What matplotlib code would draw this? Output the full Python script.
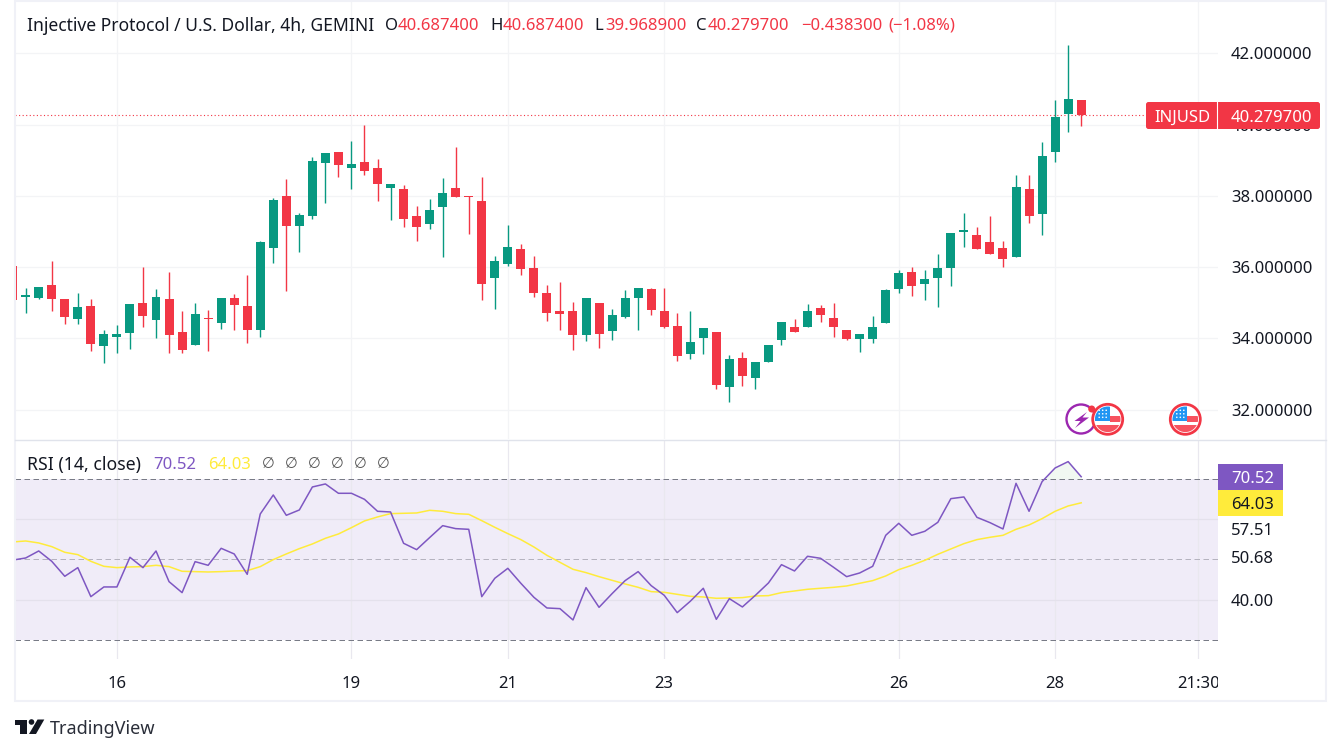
import matplotlib
matplotlib.use("Agg")
import matplotlib.pyplot as plt
from matplotlib.patches import Rectangle, Circle, Polygon, FancyBboxPatch

plt.rcParams['font.family'] = ['Noto Sans', 'DejaVu Sans']

opens = [36.04,35.17,35.14,35.50,35.11,34.55,34.92,33.79,34.05,34.16,35.00,34.52,35.11,34.19,33.82,34.58,34.44,35.14,34.92,34.24,
         36.54,38.00,37.16,37.44,38.93,39.23,38.79,38.95,38.79,38.22,38.20,37.44,37.21,37.69,38.22,38.00,37.86,35.70,36.09,36.51,
         35.98,35.28,34.78,34.78,34.10,35.00,34.21,34.61,35.14,35.39,34.78,34.36,33.57,34.02,34.19,32.64,33.46,32.90,33.35,33.96,
         34.33,34.33,34.86,34.58,34.24,33.99,33.99,34.44,35.39,35.87,35.53,35.70,35.98,36.99,36.91,36.71,36.54,36.29,38.20,37.50,
         39.23,40.30,40.6874]
highs = [36.04,35.42,35.45,36.18,35.11,35.28,35.11,34.24,34.38,34.97,36.01,35.39,35.87,34.78,35.00,34.80,35.14,35.25,35.78,36.74,
         37.94,38.48,37.52,39.09,39.21,39.23,39.54,39.99,39.04,38.34,38.31,37.72,37.92,38.50,39.37,38.00,38.53,36.32,37.19,36.65,
         36.32,35.50,35.59,35.03,35.14,35.00,34.83,35.36,35.42,35.42,35.42,34.72,34.78,34.30,34.19,33.54,33.63,33.35,33.82,34.47,
         34.55,34.97,34.94,35.00,34.24,34.13,34.64,35.39,35.93,36.01,35.93,36.37,36.96,37.52,37.13,37.44,36.74,38.59,38.59,39.51,
         40.69,42.23,40.6874]
lows = [35.07,34.72,35.11,34.78,34.41,34.41,33.65,33.32,33.60,33.71,34.33,34.02,33.60,33.60,33.82,33.65,34.27,34.24,33.88,34.05,
        36.12,35.34,36.43,37.36,37.80,38.53,38.20,38.59,37.86,37.33,37.13,36.74,37.07,36.29,37.97,36.93,35.08,34.83,36.04,35.79,
        35.17,34.50,34.24,33.68,33.93,33.74,33.96,34.58,34.24,34.66,34.30,33.37,33.43,33.57,32.59,32.22,32.67,32.59,33.35,33.82,
        34.19,34.33,34.47,34.05,33.96,33.63,33.88,34.44,35.28,35.20,35.08,34.89,35.48,36.57,36.51,36.37,36.01,36.29,37.24,36.91,
        38.95,39.79,39.9689]
closes = [35.07,35.22,35.45,35.11,34.61,34.89,33.85,34.13,34.13,34.97,34.64,35.17,34.10,33.68,34.69,34.55,35.14,34.94,34.24,36.71,
          37.89,37.16,37.47,38.98,39.21,38.87,38.90,38.70,38.34,38.34,37.36,37.13,37.61,38.08,37.97,37.97,35.53,36.18,36.57,35.95,
          35.28,34.72,34.69,34.10,35.14,34.13,34.66,35.14,35.42,34.80,34.33,33.51,33.91,34.30,32.70,33.43,32.95,33.35,33.82,34.47,
          34.19,34.78,34.66,34.33,33.99,34.13,34.33,35.36,35.84,35.48,35.67,35.98,36.96,37.05,36.51,36.37,36.23,38.25,37.44,39.12,
          40.21,40.72,40.2797]
rsi = [49.8,50.33,52.07,49.5,45.78,47.93,40.72,43.13,43.13,50.5,47.93,52.07,44.45,41.72,49.42,48.51,52.73,51.33,46.27,61.26,
       65.98,60.93,62.26,67.97,68.72,66.4,66.4,64.9,61.93,61.76,53.98,52.4,55.4,58.36,57.62,57.45,40.72,45.28,47.76,44.04,
       40.56,37.91,37.74,34.93,42.96,38.07,41.47,44.7,46.94,43.46,41.06,36.75,39.57,42.8,35.09,40.23,38.16,41.06,44.12,48.67,
       47.1,50.75,50.25,48.01,45.69,46.6,48.26,55.96,58.94,55.96,56.96,59.19,65.07,65.49,60.43,59.11,57.54,68.88,61.93,69.3,
       72.69,74.27,70.52]
rsi_ma = [54.31,54.55,54.06,53.15,51.74,51.16,49.5,48.26,47.93,48.1,48.18,48.51,48.18,47.02,46.94,46.85,46.94,47.1,47.18,48.18,
          49.92,51.33,52.65,53.81,55.22,56.29,57.87,59.53,60.52,61.35,61.43,61.51,62.17,61.93,61.35,61.18,59.6,57.95,56.38,54.89,
          53.06,50.99,49.25,47.52,46.69,45.69,44.78,43.87,43.04,41.97,41.8,41.3,40.81,40.64,40.31,40.39,40.48,40.89,40.97,41.72,
          42.13,42.55,42.8,43.04,43.37,44.04,44.7,45.86,47.43,48.51,49.75,51.24,52.57,53.89,54.89,55.47,55.96,57.45,58.53,60.1,
          61.93,63.25,64.03]
price_ticks = [32, 34, 36, 38, 40, 42]
date_ticks = [8, 26, 38, 50, 68, 80, 91]
date_labels = ['16', '19', '21', '23', '26', '28', '21:30']
rsi_ticks = [40.00, 50.68, 57.51]
rsi_grid = [40, 60]
rsi_bands = [30, 70]
rsi_mid = 50

UP, DOWN = '#089981', '#F23645'
GRID = '#F3F4F6'
BORDER = '#F0F1F7'
TXT = '#131722'
PURPLE, YELLOW = '#7E57C2', '#FFEB3B'
FONT = 12.0
W, H = 1341, 754
PX = 0.72

fig = plt.figure(figsize=(W / 100, H / 100), dpi=100, facecolor='white')


def axes_px(l, t, r, b, **kw):
    return fig.add_axes([l / W, 1 - b / H, (r - l) / W, (b - t) / H], **kw)


xlim = (0.179, 92.5)
idx = list(range(len(closes)))

# ---------- price pane
ax = axes_px(15, 2, 1218, 439)
ax.set_xlim(*xlim)
ax.set_ylim(31.18, 43.44)
for s in ax.spines.values():
    s.set_visible(False)
ax.yaxis.tick_right()
ax.set_yticks(price_ticks)
ax.set_yticklabels([f'{v:.6f}' for v in price_ticks], fontsize=FONT, color=TXT)
ax.set_xticks(date_ticks)
ax.tick_params(axis='x', length=0, labelbottom=False)
ax.tick_params(axis='y', length=0, pad=9.4)
ax.grid(True, color=GRID, lw=0.9, zorder=0)
ax.set_axisbelow(True)
for i in idx:
    col = UP if closes[i] >= opens[i] else DOWN
    ax.vlines(i, lows[i], highs[i], color=col, lw=1.0, zorder=3)
    ax.bar(i, abs(closes[i] - opens[i]), bottom=min(opens[i], closes[i]), width=0.69,
           color=col, linewidth=0, zorder=4)
ax.axhline(closes[-1], color=DOWN, lw=0.8, ls=(0, (1, 2.2)), zorder=2)

# ---------- RSI pane
ar = axes_px(15, 440, 1218, 659)
ar.set_xlim(*xlim)
ar.set_ylim(25.23, 79.64)
for s in ar.spines.values():
    s.set_visible(False)
ar.axhspan(rsi_bands[0], rsi_bands[1], color='#F0ECF8', lw=0, zorder=0)
ar.yaxis.tick_right()
ar.set_yticks(rsi_ticks)
ar.set_yticklabels([f'{v:.2f}' for v in rsi_ticks], fontsize=FONT, color=TXT)
ar.set_xticks(date_ticks)
ar.set_xticklabels(date_labels, fontsize=FONT, color=TXT)
ar.tick_params(axis='y', length=0, pad=9.4)
ar.tick_params(axis='x', length=0, pad=12)
ar.grid(True, axis='x', color='#E9E8EF', lw=0.9, zorder=1)
ar.set_axisbelow(True)
for v in rsi_grid:
    ar.axhline(v, color='#E4E1EC', lw=0.9, zorder=1)
for v in rsi_bands:
    ar.axhline(v, color='#787B86', lw=PX, ls=(0, (5.5, 3.5)), zorder=2)
ar.axhline(rsi_mid, color='#B5B3BF', lw=PX, ls=(0, (5.5, 3.5)), zorder=2)
ar.fill_between(idx, rsi_bands[1], rsi, where=[v > rsi_bands[1] for v in rsi], interpolate=True,
                color='#F1F8F2', lw=0, zorder=1)
ar.plot(idx, rsi_ma, color=YELLOW, lw=1.1, zorder=3)
ar.plot(idx, rsi, color=PURPLE, lw=1.1, zorder=4)

# ---------- overlay in pixel coordinates (chrome, legends, icons)
ov = fig.add_axes([0, 0, 1, 1], facecolor='none')
ov.set_xlim(0, W)
ov.set_ylim(H, 0)
ov.axis('off')

ov.add_patch(Rectangle((15, 1), 1311, 699.7, fill=False, ec=BORDER, lw=1.5))
ov.plot([15, 1326], [439.5, 439.5], color='#E0E3EB', lw=1.0)

clip = Rectangle((0, 0), 1218, H, transform=ov.transData)
for lab in ar.get_xticklabels():
    lab.set_clip_path(clip)
    lab.set_clip_on(True)


def t(x, y, s, color=TXT, ha='left', size=FONT, **kw):
    return ov.text(x, y, s, color=color, ha=ha, va='center_baseline', fontsize=size, **kw)


# header legend
t(27, 24, 'Injective Protocol / U.S. Dollar, 4h, GEMINI', size=12.6)
t(385, 24, 'O')
t(398, 24, '40.687400', DOWN)
t(490, 24, 'H')
t(503, 24, '40.687400', DOWN)
t(594, 24, 'L')
t(605, 24, '39.968900', DOWN)
t(696, 24, 'C')
t(708, 24, '40.279700', DOWN)
t(801, 24, '\u22120.438300', DOWN)
t(888, 24, '(\u22121.08%)', DOWN)

# RSI legend
t(27, 463, 'RSI (14, close)', size=12.7)
t(153, 463, '70.52', PURPLE)
t(208, 463, '64.03', YELLOW)
for x in [268, 291, 314, 337, 360, 383]:
    t(x, 463, '\u2205', '#555555', ha='center', size=10.5)

# last price tag
ov.add_patch(FancyBboxPatch((1148, 104), 170, 23, boxstyle='round,pad=2,rounding_size=2.5',
                            fc=DOWN, ec='none', zorder=5))
ov.plot([1217.5, 1217.5], [102, 129], color='white', lw=0.8, zorder=6)
t(1182, 115.5, 'INJUSD', 'white', ha='center', zorder=7, fontweight='medium')
t(1231, 115.5, f'{closes[-1]:.6f}', 'white', zorder=7, fontweight='medium')

# RSI value tags
ov.add_patch(Rectangle((1218, 464), 65, 26, fc=PURPLE, ec='none', zorder=5))
ov.add_patch(Rectangle((1218, 490), 65, 26, fc=YELLOW, ec='none', zorder=5))
t(1231, 477, f'{rsi[-1]:.2f}', 'white', zorder=7, fontweight='medium')
t(1231, 503, f'{rsi_ma[-1]:.2f}', TXT, zorder=7)


# event icons
def flag(cx, cy):
    ov.add_patch(Circle((cx, cy), 15, fc='white', ec=DOWN, lw=2.0, zorder=8))
    c = Circle((cx, cy), 12.8, transform=ov.transData)
    for (x0, y0, w, h, col) in [(-13, -13, 15, 15, '#2196F3'), (2, -3, 11, 5.7, '#F7525F'),
                                (-13, 5.7, 26, 8, '#F7525F')]:
        r = Rectangle((cx + x0, cy + y0), w, h, fc=col, ec='none', zorder=9)
        ov.add_patch(r)
        r.set_clip_path(c)
    for dy in (-9, -5.5, -2):
        for dx in (-8.5, -5, -1.5):
            ov.add_patch(Circle((cx + dx, cy + dy), 0.8, fc='white', ec='none', zorder=10))


ov.add_patch(Circle((1081, 419), 14.5, fc='white', ec='#9C27B0', lw=1.7, zorder=7))
ov.add_patch(Polygon([(1087, 412), (1074.5, 421), (1080.5, 421), (1075, 428), (1089, 417.5),
                      (1082.5, 417.5)], fc='#9C27B0', ec='none', zorder=7))
flag(1107.7, 419.3)
flag(1185.3, 419.3)
ov.add_patch(Circle((1091.7, 409), 3.5, fc=DOWN, ec='none', zorder=8))

# logo
LOGO = '#131722'
ov.add_patch(Polygon([(15, 719.5), (27, 719.5), (27, 734), (20.5, 734), (20.5, 724.5), (15, 724.5)],
                     fc=LOGO, ec='none'))
ov.add_patch(Circle((31.5, 722), 2.8, fc=LOGO, ec='none'))
ov.add_patch(Polygon([(37.5, 719.5), (44.3, 719.5), (36, 734), (29, 734)], fc=LOGO, ec='none'))
t(50, 727, 'TradingView', '#2A2E39', size=13)

fig.savefig('out.png', dpi=100, facecolor='white')
